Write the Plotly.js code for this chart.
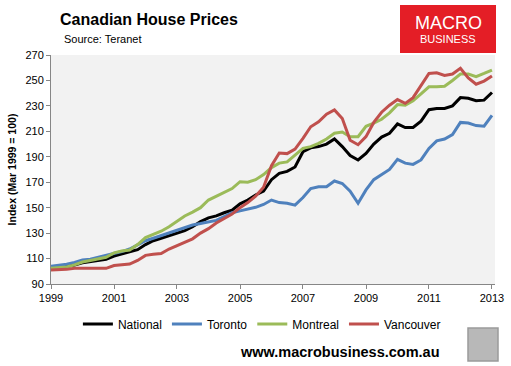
<!DOCTYPE html>
<html>
<head>
<meta charset="utf-8">
<script src="https://cdn.plot.ly/plotly-3.0.1.min.js"></script>
<style>html,body{margin:0;padding:0;background:#fff;}#chart{width:511px;height:366px;}</style>
</head>
<body>
<div id="chart"></div>
<script>
// Quarterly sample dates (decimal years)
const years = [];
for (let y = 1999; y <= 2013; y++) { for (const m of [1,4,7,10]) { if (y === 2013 && m > 1) break; years.push(y + "-" + String(m).padStart(2,"0") + "-01"); } }

const national = [102,103,104,105,106.7,107.5,108.5,109.4,112,113.5,115,117,121,124,126,128,130,132,135,139,142,143.5,146,148,153,156,160,163,172,177,178.5,182,194,197,198,200,204,198,191,187.5,192.7,200,205.5,208.5,215.8,213,213,218,227,228,228,230,236.5,236,234,234.5,240.5];
const toronto = [104,104.5,105.5,107,108.8,109.5,111,112,113.5,115.5,117.5,120.5,124,126,128,130,132,134,136.4,137.5,139,140,143,146,147.5,149,150.3,152.5,156,154,153.5,152,158,165,166.5,166.5,171,169,163,153.5,164,172,176,180,188,185,184,187.5,196.5,202.5,204,207.5,217,216.5,214.5,214,222.5];
const montreal = [102.3,102.8,103.4,105,107.3,108.5,109.5,111,114.5,116,116.7,121,126.5,129,131.5,135,139,143.5,146.5,150,156,159,161.5,165,170.4,170,172,176,181.5,185,186,191,196.6,198,200.5,204,208.5,209.5,205.8,205.8,214,216.5,219.5,224.5,231,230.5,234,239.5,245,245,245.5,250,255,255,253,255.5,258.2];
const vancouver = [101,101.2,101.5,102.3,102.3,102.3,102.3,102.3,104.5,105.3,105.7,108.5,112.5,113.3,114,117.5,120,122.5,125.5,130,133.5,138,141.5,145,150,154,159,166,183,193,192.5,196,204.5,213.6,217.5,223.5,226.8,220,203,199.5,205.8,217,225,230.5,235,232,236.5,246,255.5,256,254,255,259.5,252,247,249.5,253.5];

const seriesNames = ["National","Toronto","Montreal","Vancouver"];
const seriesColors = ["#000000","#4f81bd","#9bbb59","#c0504d"];
const seriesData = [national, toronto, montreal, vancouver];

const traces = seriesData.map((d,i)=>({
  x: years, y: d, type: "scatter", mode: "lines", name: seriesNames[i],
  line: {color: seriesColors[i], width: 3, shape: "linear"}
}));

const font = "Liberation Sans, Arial, sans-serif";
const layout = {
  width: 511, height: 366,
  margin: {l: 51, r: 16, t: 55, b: 82},
  paper_bgcolor: "#ffffff", plot_bgcolor: "#f2f2f2",
  font: {family: font, size: 11, color: "#000"},
  showlegend: true,
  legend: {orientation: "h", x: 0.475, xanchor: "center", y: -0.175, yanchor: "middle",
           font: {family: font, size: 12, color: "#000"}, bgcolor: "rgba(0,0,0,0)", tracegroupgap: 0, itemwidth: 30},
  xaxis: {type: "date", range: ["1999-01-01","2013-02-05"], tick0: "1999-01-01", dtick: "M24", tickformat: "%Y",
          showgrid: false, zeroline: false, showline: true, linecolor: "#868686", linewidth: 1,
          ticks: "outside", ticklen: 4, tickcolor: "#868686", tickfont: {family: font, size: 11}},
  yaxis: {range: [90, 270], tick0: 90, dtick: 20, showgrid: false, zeroline: false, showline: true,
          linecolor: "#868686", linewidth: 1, ticks: "outside", ticklen: 4, tickcolor: "#868686",
          tickfont: {family: font, size: 11},
          title: {text: "<b>Index (Mar 1999 = 100)</b>", font: {family: font, size: 10.5}, standoff: 6}},
  shapes: [
    {type: "rect", xref: "paper", yref: "paper", x0: (400-51)/444, x1: (496-51)/444, y0: (284-5)/229, y1: (284-53)/229,
     fillcolor: "#e41e26", line: {width: 0}, layer: "above"},
    {type: "rect", xref: "paper", yref: "paper", x0: (468-51)/444, x1: (498-51)/444, y0: (284-328)/229, y1: (284-361)/229,
     fillcolor: "#b8b8b8", line: {width: 1.5, color: "#9a9a9a"}, layer: "above"}
  ],
  annotations: [
    {text: "<b>Canadian House Prices</b>", xref: "paper", yref: "paper", x: (58-51)/444, y: (284-20)/229,
     xanchor: "left", yanchor: "middle", showarrow: false, font: {family: font, size: 16, color: "#000"}},
    {text: "Source: Teranet", xref: "paper", yref: "paper", x: (62-51)/444, y: (284-39)/229,
     xanchor: "left", yanchor: "middle", showarrow: false, font: {family: font, size: 11, color: "#000"}},
    {text: "MACRO", xref: "paper", yref: "paper", x: (448-51)/444, y: (284-23)/229,
     xanchor: "center", yanchor: "middle", showarrow: false, font: {family: font, size: 18, color: "#ffffff"}},
    {text: "BUSINESS", xref: "paper", yref: "paper", x: (448-51)/444, y: (284-39)/229,
     xanchor: "center", yanchor: "middle", showarrow: false, font: {family: font, size: 11, color: "#ffffff"}},
    {text: "<b>www.macrobusiness.com.au</b>", xref: "paper", yref: "paper", x: (340-51)/444, y: (284-352)/229,
     xanchor: "center", yanchor: "middle", showarrow: false, font: {family: font, size: 14.5, color: "#000"}}
  ]
};

Plotly.newPlot("chart", traces, layout, {displayModeBar: false, staticPlot: true});
</script>
</body>
</html>
